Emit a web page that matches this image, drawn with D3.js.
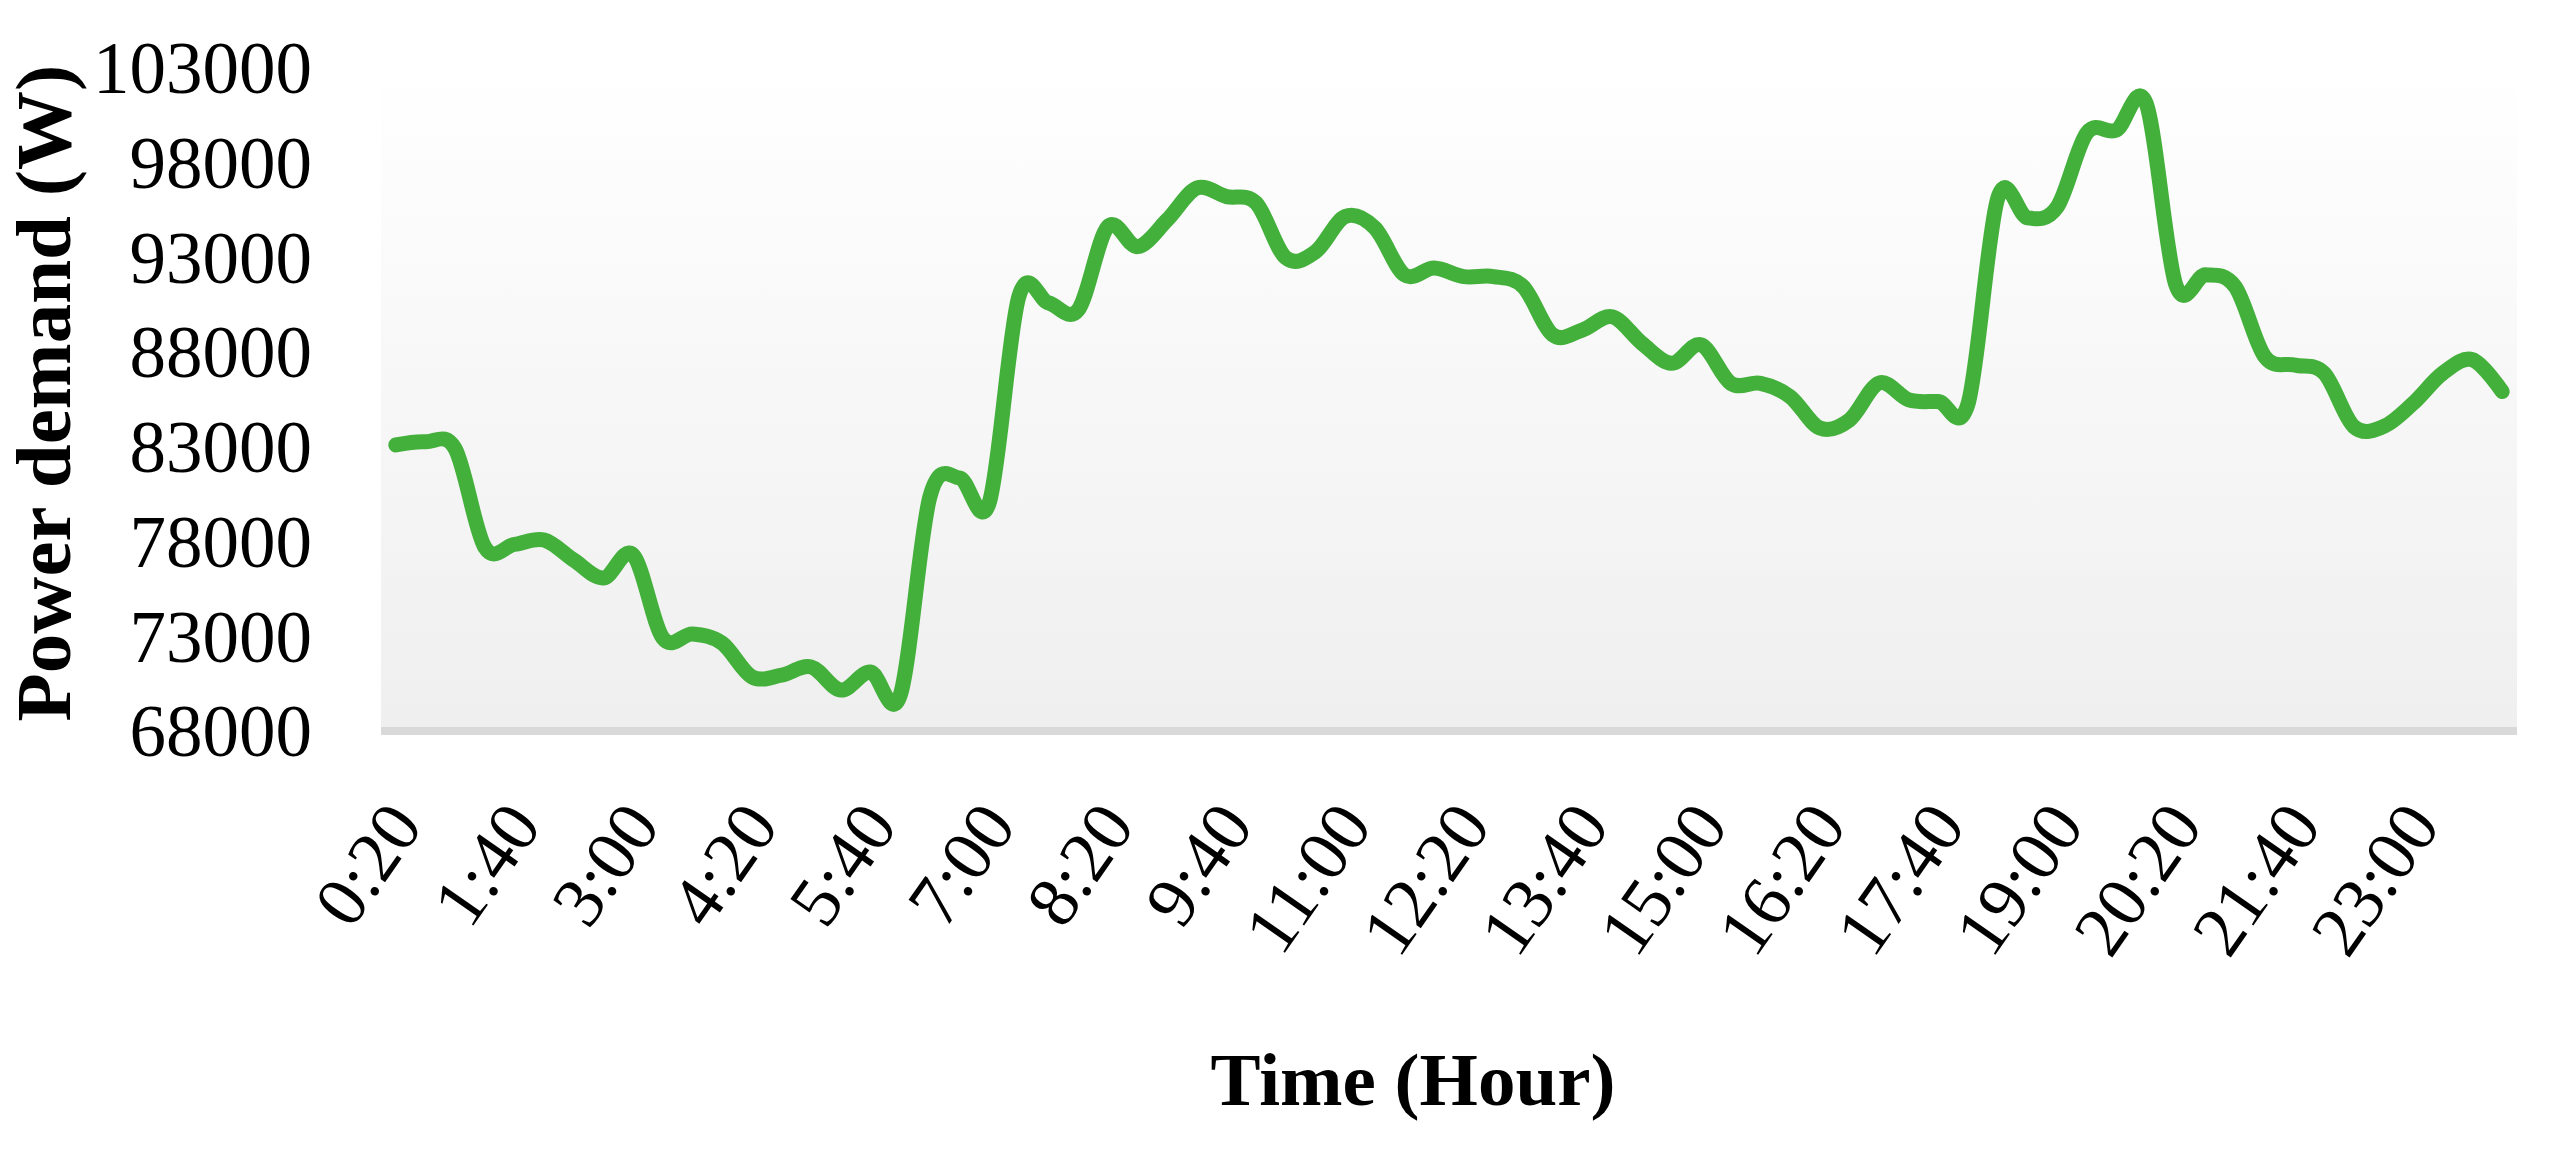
<!DOCTYPE html>
<html>
<head>
<meta charset="utf-8">
<script src="https://cdn.jsdelivr.net/npm/d3@7"></script>
<style>
  html, body { margin: 0; padding: 0; background: #ffffff; }
  svg { display: block; }
</style>
</head>
<body>
<svg id="chart" width="2564" height="1149"></svg>
<script>
// ---------------- data ----------------
const categories = [
  "0:20","0:40","1:00","1:20","1:40","2:00","2:20","2:40","3:00","3:20","3:40","4:00",
  "4:20","4:40","5:00","5:20","5:40","6:00","6:20","6:40","7:00","7:20","7:40","8:00",
  "8:20","8:40","9:00","9:20","9:40","10:00","10:20","10:40","11:00","11:20","11:40","12:00",
  "12:20","12:40","13:00","13:20","13:40","14:00","14:20","14:40","15:00","15:20","15:40","16:00",
  "16:20","16:40","17:00","17:20","17:40","18:00","18:20","18:40","19:00","19:20","19:40","20:00",
  "20:20","20:40","21:00","21:20","21:40","22:00","22:20","22:40","23:00","23:20","23:40","0:00"
];
const powerDemand = [
  83100, 83270, 82900, 77700, 77850, 78080, 77020, 76080, 77290, 72910, 73120, 72640,
  70860, 70950, 71380, 70160, 71110, 69880, 80350, 81360, 80040, 90930, 90600, 90230,
  94620, 93570, 94980, 96660, 96210, 95870, 92980, 93300, 95160, 94560, 92080, 92440,
  91990, 91990, 91460, 88910, 89170, 89870, 88470, 87410, 88380, 86350, 86350, 85650,
  83990, 84420, 86370, 85480, 85390, 85300, 96140, 95090, 95660, 99570, 99730, 101130,
  91550, 92080, 91460, 87760, 87320, 86890, 84070, 84070, 85300, 86890, 87600, 85920
];
const xTickLabels = ["0:20","1:40","3:00","4:20","5:40","7:00","8:20","9:40","11:00",
  "12:20","13:40","15:00","16:20","17:40","19:00","20:20","21:40","23:00"];
const yTickValues = [68000, 73000, 78000, 83000, 88000, 93000, 98000, 103000];
const yTitle = "Power demand (W)";
const xTitle = "Time (Hour)";

// ---------------- layout ----------------
const plot = { left: 381, right: 2517, top: 68, bottom: 731 };
const svg = d3.select("#chart");
const FONT = "'Liberation Serif', 'Times New Roman', serif";

const x = d3.scaleBand().domain(categories).range([plot.left, plot.right]).paddingInner(0).paddingOuter(0);
const y = d3.scaleLinear().domain([68000, 103000]).range([plot.bottom, plot.top]);

// gradient plot area
const defs = svg.append("defs");
const grad = defs.append("linearGradient").attr("id", "plotGrad")
  .attr("x1", 0).attr("y1", 0).attr("x2", 0).attr("y2", 1);
grad.append("stop").attr("offset", "0%").attr("stop-color", "#ffffff");
grad.append("stop").attr("offset", "100%").attr("stop-color", "#efefef");

svg.append("rect")
  .attr("x", plot.left).attr("y", plot.top)
  .attr("width", plot.right - plot.left).attr("height", plot.bottom - plot.top)
  .attr("fill", "url(#plotGrad)");

// bottom axis bar
svg.append("rect")
  .attr("x", plot.left).attr("y", plot.bottom - 4)
  .attr("width", plot.right - plot.left).attr("height", 8)
  .attr("fill", "#d9d9d9");

// y axis
const yAxis = d3.axisLeft(y).tickValues(yTickValues).tickSize(0).tickPadding(0).tickFormat(d3.format("d"));
const yg = svg.append("g").attr("transform", "translate(312,0)").call(yAxis);
yg.select(".domain").remove();
yg.selectAll("text")
  .attr("font-family", FONT).attr("font-size", 73).attr("fill", "#000")
  .attr("dy", "0.34em").attr("x", 0);

// x axis
const xAxis = d3.axisBottom(x).tickValues(xTickLabels).tickSize(0).tickPadding(0);
const xg = svg.append("g").attr("transform", `translate(0,${plot.bottom})`).call(xAxis);
xg.select(".domain").remove();
xg.selectAll("text")
  .attr("font-family", FONT).attr("font-size", 72).attr("fill", "#000")
  .attr("text-anchor", "end")
  .attr("dominant-baseline", "central")
  .attr("y", 0).attr("dy", 0)
  .attr("transform", "translate(9,81) rotate(-55)");

// line
const line = d3.line()
  .x((d, i) => x(categories[i]) + x.bandwidth() / 2)
  .y(d => y(d))
  .curve(d3.curveCardinal.tension(0));

svg.append("path")
  .datum(powerDemand)
  .attr("d", line)
  .attr("fill", "none")
  .attr("stroke", "#44b03c")
  .attr("stroke-width", 15)
  .attr("stroke-linecap", "round")
  .attr("stroke-linejoin", "round");

// titles
svg.append("text")
  .attr("transform", "translate(70,393) rotate(-90)")
  .attr("text-anchor", "middle")
  .attr("font-family", FONT).attr("font-weight", "bold").attr("font-size", 79)
  .attr("fill", "#000")
  .text(yTitle);

svg.append("text")
  .attr("x", 1413).attr("y", 1105)
  .attr("text-anchor", "middle")
  .attr("font-family", FONT).attr("font-weight", "bold").attr("font-size", 75)
  .attr("fill", "#000")
  .text(xTitle);
</script>
</body>
</html>
